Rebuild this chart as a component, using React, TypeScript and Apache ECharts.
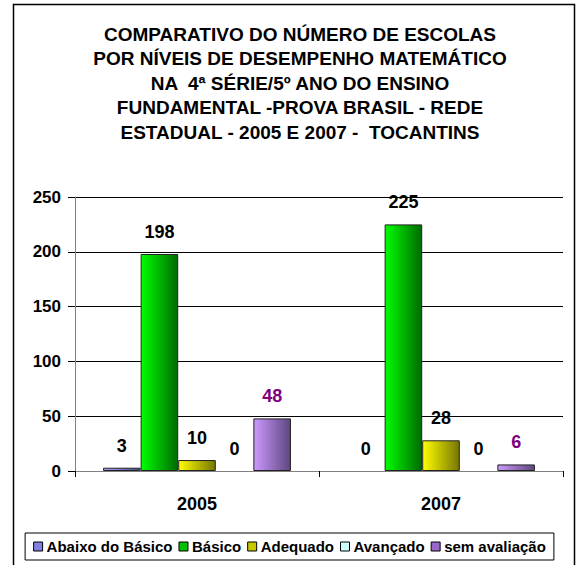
import React, { useEffect, useRef } from "react";
import * as echarts from "echarts";

const categories = ["2005", "2007"];
const seriesNames = ["Abaixo do Básico", "Básico", "Adequado", "Avançado", "sem avaliação"];
const abaixo = [3, 0];
const basico = [198, 225];
const adequado = [10, 28];
const avancado = [0, 0];
const semAvaliacao = [48, 6];
const yTicks = [0, 50, 100, 150, 200, 250];

const FONT = "'Liberation Sans', Arial, Helvetica, sans-serif";

export default function App() {
  const ref = useRef<HTMLDivElement>(null);
  useEffect(() => {
    if (!ref.current) return;
    const chart = echarts.init(ref.current, undefined, { renderer: "svg" });
    const grad = (a: string, b: string) =>
      new echarts.graphic.LinearGradient(0, 0, 1, 0, [
        { offset: 0, color: a },
        { offset: 1, color: b },
      ]);
    const data = [abaixo, basico, adequado, avancado, semAvaliacao];
    const fills = [
      grad("#a0a0ff", "#4a4a8a"),
      grad("#00ff00", "#006a00"),
      grad("#ffff00", "#767600"),
      grad("#ccffff", "#668080"),
      grad("#cc99ff", "#5e4680"),
    ];
    const legendColors = ["#8080e0", "#00c000", "#c8c800", "#ccffff", "#9966cc"];
    const labelColors = ["#000", "#000", "#000", "#000", "#800080"];
    const option: any = {
      animation: false,
      textStyle: { fontFamily: FONT },
      title: {
        text:
          "COMPARATIVO DO NÚMERO DE ESCOLAS\nPOR NÍVEIS DE DESEMPENHO MATEMÁTICO\nNA  4ª SÉRIE/5º ANO DO ENSINO\nFUNDAMENTAL -PROVA BRASIL - REDE\nESTADUAL - 2005 E 2007 -  TOCANTINS",
        left: 295,
        top: 17,
        textAlign: "center",
        textStyle: {
          fontFamily: FONT,
          fontSize: 19,
          fontWeight: "bold",
          color: "#000",
          lineHeight: 24.5,
        },
      },
      legend: {
        data: seriesNames.map((n, i) => ({
          name: n,
          itemStyle: { color: legendColors[i], borderColor: "#000", borderWidth: 1 },
        })),
        left: "center",
        top: 533,
        orient: "horizontal",
        itemWidth: 9,
        itemHeight: 9,
        itemGap: 6,
        padding: [6, 8],
        borderColor: "#000",
        borderWidth: 1,
        icon: "rect",
        textStyle: { fontFamily: FONT, fontSize: 15, fontWeight: "bold", color: "#000", padding: [0, 0, 0, -1] },
      },
      grid: { left: 75, right: 16, top: 197, bottom: 94 },
      xAxis: {
        type: "category",
        data: categories,
        axisLine: { lineStyle: { color: "#808080", width: 1 } },
        axisTick: { show: true, length: 6, lineStyle: { color: "#000" } },
        axisLabel: { fontFamily: FONT, fontSize: 18, fontWeight: "bold", color: "#000", margin: 24 },
      },
      yAxis: {
        type: "value",
        min: yTicks[0],
        max: yTicks[yTicks.length - 1],
        interval: 50,
        axisLine: { show: true, lineStyle: { color: "#808080" } },
        axisTick: { show: true, length: 7, lineStyle: { color: "#000" } },
        splitLine: { lineStyle: { color: "#000", width: 1 } },
        axisLabel: { fontFamily: FONT, fontSize: 17, fontWeight: "bold", color: "#000", margin: 14 },
      },
      series: seriesNames.map((n, i) => ({
        name: n,
        type: "bar",
        data: data[i].map((v) =>
          v === 0
            ? { value: v, itemStyle: { borderWidth: 0, borderColor: "rgba(0,0,0,0)", color: "rgba(0,0,0,0)" } }
            : { value: v }
        ),
        barGap: "0%",
        barCategoryGap: "23%",
        itemStyle: { color: fills[i], borderColor: "#222", borderWidth: 1 },
        label: {
          show: true,
          position: "top",
          distance: 13,
          fontFamily: FONT,
          fontSize: 18,
          fontWeight: "bold",
          color: labelColors[i],
        },
      })),
      graphic: [
        {
          type: "rect",
          shape: { x: 13.5, y: 4.5, width: 561, height: 620 },
          style: { fill: "none", stroke: "#000", lineWidth: 1.5 },
          silent: true,
          z: 100,
        },
      ],
    };
    chart.setOption(option);
    return () => chart.dispose();
  }, []);
  return (
    <div
      ref={ref}
      style={{ position: "fixed", left: 0, top: 0, width: 579, height: 565, background: "#fff" }}
    />
  );
}
